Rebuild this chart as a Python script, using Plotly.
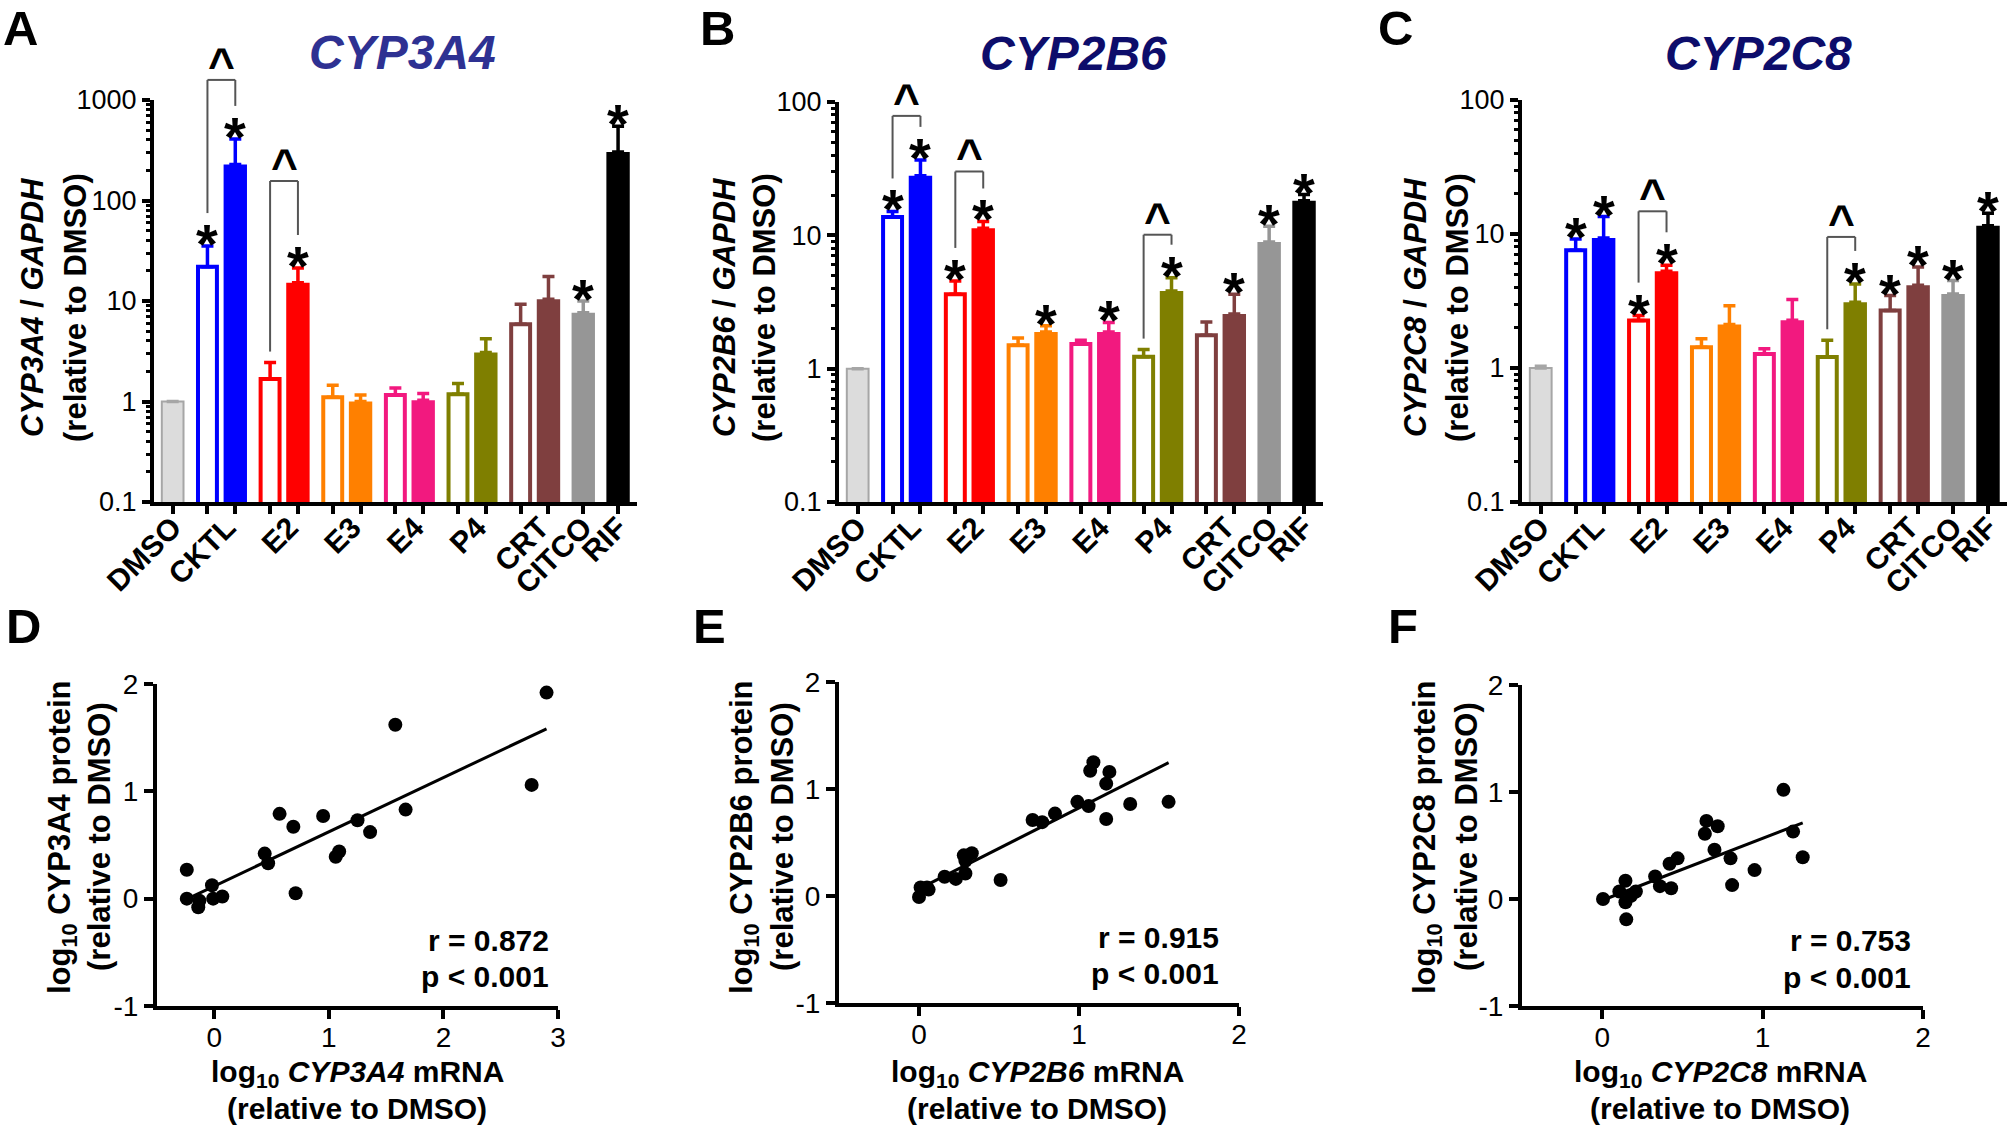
import numpy as np
import plotly.graph_objects as go

W, H = 2010, 1127

# ---------------- data ----------------
group_labels = ["DMSO", "CKTL", "E2", "E3", "E4", "P4", "CRT", "CITCO", "RIF"]
bar_group = [0, 1, 1, 2, 2, 3, 3, 4, 4, 5, 5, 6, 6, 7, 8]
bar_hollow = [False, True, False, True, False, True, False, True, False, True, False, True, False, False, False]

cyp3a4_mean = [1.0, 21.9, 228, 1.67, 15.2, 1.10, 1.00, 1.16, 1.03, 1.18, 3.07, 5.86, 10.4, 7.66, 304]
cyp3a4_err = [0.0, 13.3, 182, 0.77, 6.1, 0.35, 0.16, 0.20, 0.17, 0.33, 1.15, 3.41, 7.1, 2.34, 243]
cyp3a4_star = [0, 1, 1, 0, 1, 0, 0, 0, 0, 0, 0, 0, 0, 1, 1]
cyp3a4_caret = ["CKTL", "E2"]

cyp2b6_mean = [1.0, 13.7, 28.0, 3.62, 11.3, 1.50, 1.88, 1.53, 1.88, 1.23, 3.83, 1.78, 2.57, 8.92, 18.2]
cyp2b6_err = [0.0, 1.4, 8.8, 0.93, 1.4, 0.20, 0.22, 0.10, 0.34, 0.16, 0.98, 0.46, 1.05, 2.78, 2.0]
cyp2b6_star = [0, 1, 1, 1, 1, 0, 1, 0, 1, 0, 1, 0, 1, 1, 1]
cyp2b6_caret = ["CKTL", "E2", "P4"]

cyp2c8_mean = [1.0, 7.55, 9.33, 2.26, 5.27, 1.43, 2.11, 1.27, 2.27, 1.21, 3.09, 2.69, 4.14, 3.57, 11.5]
cyp2c8_err = [0.03, 1.63, 4.17, 0.20, 0.57, 0.22, 0.81, 0.12, 0.97, 0.40, 1.15, 0.78, 1.53, 0.92, 2.8]
cyp2c8_star = [0, 1, 1, 1, 1, 0, 0, 0, 0, 0, 1, 1, 1, 1, 1]
cyp2c8_caret = ["E2", "P4"]

cyp3a4_mrna = [-0.24, -0.24, -0.14, -0.13, -0.02, -0.01, 0.07, 0.44, 0.47, 0.57, 0.69, 0.71,
               0.95, 1.06, 1.09, 1.25, 1.36, 1.58, 1.67, 2.77, 2.90]
cyp3a4_prot = [0.27, 0.00, -0.08, -0.02, 0.125, 0.00, 0.02, 0.42, 0.33, 0.79, 0.67, 0.05,
               0.77, 0.39, 0.44, 0.73, 0.62, 1.62, 0.83, 1.06, 1.92]

cyp2b6_mrna = [0.00, 0.01, 0.05, 0.06, 0.16, 0.23, 0.29, 0.28, 0.29, 0.33, 0.51, 0.71,
               0.77, 0.85, 0.99, 1.06, 1.07, 1.09, 1.19, 1.17, 1.17, 1.32, 1.56]
cyp2b6_prot = [-0.01, 0.08, 0.08, 0.06, 0.18, 0.16, 0.21, 0.38, 0.33, 0.40, 0.15, 0.71,
               0.69, 0.77, 0.88, 0.84, 1.17, 1.25, 1.16, 1.05, 0.72, 0.86, 0.88]

cyp2c8_mrna = [0.005, 0.107, 0.145, 0.145, 0.15, 0.21, 0.18, 0.33, 0.36, 0.42, 0.43, 0.47,
               0.64, 0.65, 0.72, 0.70, 0.80, 0.81, 0.95, 1.13, 1.19, 1.25]
cyp2c8_prot = [0.00, 0.07, 0.17, -0.03, -0.19, 0.07, 0.03, 0.21, 0.12, 0.33, 0.10, 0.38,
               0.61, 0.73, 0.68, 0.46, 0.38, 0.13, 0.27, 1.02, 0.63, 0.39]

stat_r = ["0.872", "0.915", "0.753"]
stat_p = ["0.001", "0.001", "0.001"]

# ---------------- style ----------------
SANS = "Liberation Sans, Arial, sans-serif"
group_colors = ["#D9D9D9", "#0000FF", "#FF0000", "#FF8000", "#F2197F",
                "#7F7F00", "#7F3F3F", "#969696", "#000000"]


def xd(a, b):
    return [a / W, b / W]


def yd(t, b):
    return [1 - b / H, 1 - t / H]


def px(x):
    return x / W


def py(y):
    return 1 - y / H


def bold(size, color="black"):
    return dict(family=SANS, size=size, color=color, weight="bold")


bar_panels = [
    dict(gene="CYP3A4", mean=cyp3a4_mean, err=cyp3a4_err, star=cyp3a4_star, caret=cyp3a4_caret,
         caret_clear=[26, 54], box=(154, 100, 637, 502), yrange=(-1, 3), tcolor="#2E3192",
         title_xy=(402, 52), ytitle_x=(32, 75), letter="A", letter_x=1),
    dict(gene="CYP2B6", mean=cyp2b6_mean, err=cyp2b6_err, star=cyp2b6_star, caret=cyp2b6_caret,
         caret_clear=[11, 17, 10], box=(839, 102, 1323, 502), yrange=(-1, 2), tcolor="#0D0D6B",
         title_xy=(1073, 54), ytitle_x=(724, 764), letter="B", letter_x=698),
    dict(gene="CYP2C8", mean=cyp2c8_mean, err=cyp2c8_err, star=cyp2c8_star, caret=cyp2c8_caret,
         caret_clear=[21, 14], box=(1522, 100, 2007, 502), yrange=(-1, 2), tcolor="#0D0D6B",
         title_xy=(1758, 54), ytitle_x=(1415, 1457), letter="C", letter_x=1376),
]

scatter_panels = [
    dict(gene="CYP3A4", x=cyp3a4_mrna, y=cyp3a4_prot, box=(157, 684, 558, 1006), xrange=(-0.5, 3),
         xticks=[0, 1, 2, 3], stat_x=551, stat_y=(940, 976), ytitle_x=(62, 99), xtitle_x=357,
         letter="D", letter_x=4),
    dict(gene="CYP2B6", x=cyp2b6_mrna, y=cyp2b6_prot, box=(839, 682, 1239, 1003), xrange=(-0.5, 2),
         xticks=[0, 1, 2], stat_x=1221, stat_y=(937, 973), ytitle_x=(744, 782), xtitle_x=1037,
         letter="E", letter_x=691),
    dict(gene="CYP2C8", x=cyp2c8_mrna, y=cyp2c8_prot, box=(1522, 685, 1923, 1006), xrange=(-0.5, 2),
         xticks=[0, 1, 2], stat_x=1913, stat_y=(940, 977), ytitle_x=(1427, 1466), xtitle_x=1720,
         letter="F", letter_x=1386),
]

STAR_SIZE = 56
CARET_SIZE = 46
STAR_SHIFT = -31
CARET_SHIFT = -13
XR = (-0.67, 16.68)
PAIR_LABEL_SHIFT = 0.2

# bar x positions from the group structure
pos = []
for i, g in enumerate(bar_group):
    if i == 0:
        pos.append(0.0)
    elif g == bar_group[i - 1]:
        pos.append(pos[-1] + 1.0)
    else:
        pos.append(pos[-1] + 1.25)
label_pos = []
for k in range(len(group_labels)):
    members = [p for p, g in zip(pos, bar_group) if g == k]
    label_pos.append(float(np.mean(members)) + (PAIR_LABEL_SHIFT if len(members) > 1 else 0.0))

fig = go.Figure()
axes = {}
annotations = []
shapes = []


def paper_text(x, y, text, font, angle=0, xanchor="center", yanchor="middle"):
    annotations.append(dict(x=px(x), y=py(y), xref="paper", yref="paper", text=text, showarrow=False,
                            textangle=angle, xanchor=xanchor, yanchor=yanchor, font=font))


for k, P in enumerate(bar_panels):
    n = k + 1
    xa = "x" if n == 1 else f"x{n}"
    ya = "y" if n == 1 else f"y{n}"
    xl, yt, xr, yb = P["box"]
    for i in range(len(pos)):
        c = group_colors[bar_group[i]]
        if i == 0:
            fill, lc, lw, w, ec = "#DCDCDC", "#A6A6A6", 2, 0.78, "#A6A6A6"
        elif bar_hollow[i]:
            fill, lc, lw, w, ec = "white", c, 4, 0.68, c
        else:
            fill, lc, lw, w, ec = c, c, 0, 0.84, c
        fig.add_trace(go.Bar(
            x=[pos[i]], y=[P["mean"][i]], width=[w],
            marker=dict(color=fill, line=dict(color=lc, width=lw)),
            error_y=dict(type="data", symmetric=False, array=[P["err"][i]], arrayminus=[0],
                         color=ec, thickness=3.5, width=6),
            xaxis=xa, yaxis=ya, showlegend=False, hoverinfo="skip"))

    lo, hi = P["yrange"]
    major = [10.0 ** e for e in range(lo, hi + 1)]
    minor = [m * 10.0 ** e for e in range(lo, hi) for m in range(2, 10)]
    axes["xaxis" + ("" if n == 1 else str(n))] = dict(
        domain=xd(xl, xr), anchor=ya, range=list(XR), showline=True, linewidth=4, linecolor="black",
        tickmode="array", tickvals=label_pos, ticktext=group_labels, ticks="", tickangle=-45,
        tickfont=bold(30), ticklabelstandoff=-8,
        minor=dict(tickmode="array", tickvals=pos, ticks="outside", ticklen=8, tickwidth=4, tickcolor="black"),
        showgrid=False, zeroline=False, fixedrange=True, automargin=False)
    axes["yaxis" + ("" if n == 1 else str(n))] = dict(
        domain=yd(yt, yb), anchor=xa, type="log", range=[lo, hi], showline=True, linewidth=4,
        linecolor="black", tickmode="array", tickvals=major, ticktext=[f"{v:g}" for v in major],
        ticks="outside", ticklen=8, tickwidth=4, tickcolor="black",
        tickfont=dict(family=SANS, size=27, color="black"),
        minor=dict(tickmode="array", tickvals=minor, ticks="outside", ticklen=4, tickwidth=3, tickcolor="black"),
        showgrid=False, zeroline=False, fixedrange=True, automargin=False)

    ppd = (yb - yt) / (hi - lo)
    for i in range(len(pos)):
        if P["star"][i]:
            annotations.append(dict(
                x=pos[i], y=float(np.log10(P["mean"][i] + P["err"][i])), xref=xa, yref=ya, text="*",
                showarrow=False, xanchor="center", yanchor="bottom", yshift=STAR_SHIFT,
                font=bold(STAR_SIZE)))

    def fx(v):
        return (v - XR[0]) / (XR[1] - XR[0])

    def fy(v):
        return (v - lo) / (hi - lo)

    for gname, clear in zip(P["caret"], P["caret_clear"]):
        gi = group_labels.index(gname)
        idx = [i for i, g in enumerate(bar_group) if g == gi]
        legs = []
        for i in idx:
            cap = float(np.log10(P["mean"][i] + P["err"][i]))
            legs.append(cap + (33 if P["star"][i] else 11) / ppd)
        topb = max(legs) + clear / ppd
        x0, x1 = pos[idx[0]], pos[idx[1]]
        for seg in [(x0, legs[0], x0, topb), (x0, topb, x1, topb), (x1, topb, x1, legs[1])]:
            shapes.append(dict(type="line", xref=f"{xa} domain", yref=f"{ya} domain",
                               x0=fx(seg[0]), y0=fy(seg[1]), x1=fx(seg[2]), y1=fy(seg[3]),
                               line=dict(color="#555555", width=2)))
        annotations.append(dict(
            x=fx((x0 + x1) / 2), y=fy(topb), xref=f"{xa} domain", yref=f"{ya} domain", text="^",
            showarrow=False, xanchor="center", yanchor="bottom", yshift=CARET_SHIFT,
            font=bold(CARET_SIZE)))

    # titles and labels
    paper_text(P["title_xy"][0], P["title_xy"][1], f"<i>{P['gene']}</i>", bold(48, P["tcolor"]))
    paper_text(P["ytitle_x"][0], 308, f"<i>{P['gene']}</i> / <i>GAPDH</i>", bold(31), angle=-90)
    paper_text(P["ytitle_x"][1], 308, "(relative to DMSO)", bold(31), angle=-90)
    paper_text(P["letter_x"], 28, P["letter"], bold(49), xanchor="left")

for k, S in enumerate(scatter_panels):
    n = k + 4
    xa, ya = f"x{n}", f"y{n}"
    xl, yt, xr, yb = S["box"]
    xs = np.array(S["x"], dtype=float)
    ys = np.array(S["y"], dtype=float)
    slope, icpt = np.polyfit(xs, ys, 1)
    xl_line = np.array([xs.min(), xs.max()])
    fig.add_trace(go.Scatter(x=xl_line, y=slope * xl_line + icpt, mode="lines",
                             line=dict(color="black", width=3), xaxis=xa, yaxis=ya,
                             showlegend=False, hoverinfo="skip"))
    fig.add_trace(go.Scatter(x=xs, y=ys, mode="markers", marker=dict(size=14, color="black"),
                             xaxis=xa, yaxis=ya, showlegend=False, cliponaxis=False))
    axes[f"xaxis{n}"] = dict(
        domain=xd(xl, xr), anchor=ya, range=list(S["xrange"]), showline=True, linewidth=4, linecolor="black",
        tickmode="array", tickvals=S["xticks"], ticktext=[str(v) for v in S["xticks"]],
        ticks="outside", ticklen=9, tickwidth=4, tickcolor="black", ticklabelstandoff=-6,
        tickfont=dict(family=SANS, size=28, color="black"), showgrid=False, zeroline=False,
        fixedrange=True, automargin=False)
    axes[f"yaxis{n}"] = dict(
        domain=yd(yt, yb), anchor=xa, range=[-1, 2], showline=True, linewidth=4, linecolor="black",
        tickmode="array", tickvals=[-1, 0, 1, 2], ticktext=["-1", "0", "1", "2"],
        ticks="outside", ticklen=9, tickwidth=4, tickcolor="black",
        tickfont=dict(family=SANS, size=28, color="black"), showgrid=False, zeroline=False,
        fixedrange=True, automargin=False)

    paper_text(S["stat_x"], S["stat_y"][0], f"r = {stat_r[k]}", bold(30), xanchor="right")
    paper_text(S["stat_x"], S["stat_y"][1], f"p &lt; {stat_p[k]}", bold(30), xanchor="right")
    paper_text(S["ytitle_x"][0], 837, f"log<sub>10</sub> {S['gene']} protein", bold(31), angle=-90)
    paper_text(S["ytitle_x"][1], 837, "(relative to DMSO)", bold(31), angle=-90)
    paper_text(S["xtitle_x"], 1073, f"log<sub>10</sub> <i>{S['gene']}</i> mRNA", bold(30))
    paper_text(S["xtitle_x"], 1108, "(relative to DMSO)", bold(30))
    paper_text(S["letter_x"], 626, S["letter"], bold(49), xanchor="left")

fig.update_layout(width=W, height=H, margin=dict(l=0, r=0, t=0, b=0, autoexpand=False),
                  paper_bgcolor="white", plot_bgcolor="white", barmode="overlay",
                  showlegend=False, annotations=annotations, shapes=shapes, **axes)

fig.write_html("out.html", config={"displayModeBar": False},
               post_script="document.body.style.margin='0';document.body.style.padding='0';"
                           "document.body.style.overflow='hidden';")
